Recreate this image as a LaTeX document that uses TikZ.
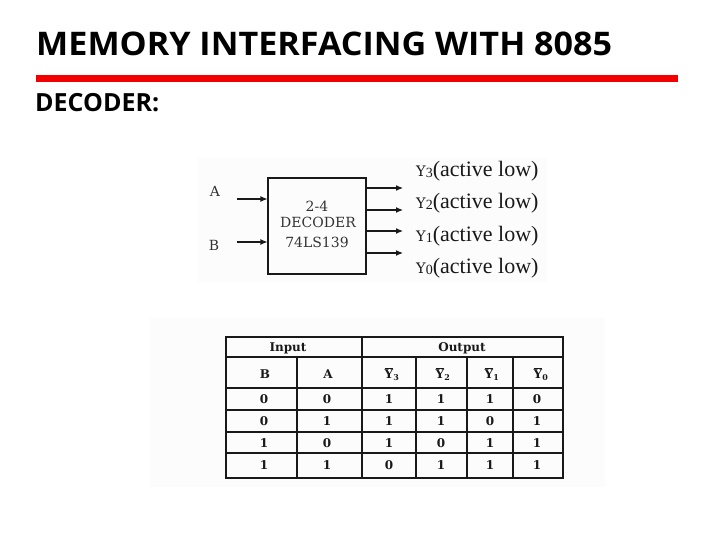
\documentclass[tikz,border=0pt]{standalone}
\usepackage{fontspec}
\setmainfont{Liberation Serif}
\newfontfamily\slidefont{Open Sans}
\newfontfamily\chipfont{DejaVu Serif}
\usetikzlibrary{arrows.meta}
\tikzset{
  panel/.style={fill=black!1,draw=none},
  pin/.style={-{Latex[length=7pt,width=6pt]},line width=1.1pt,black!90},
  chip/.style={font=\chipfont\fontsize{14}{14}\selectfont,text=black!80,inner sep=0pt},
  pinlabel/.style={font=\fontsize{22}{22}\selectfont,text=black!90,anchor=base west,inner sep=0pt},
  cell/.style={font=\chipfont\bfseries\fontsize{12}{12}\selectfont,text=black!90,inner sep=0pt},
  grid/.style={line width=1.4pt,black!90}
}
\newcommand{\outhead}[1]{$\overline{\mbox{\bfseries Y}}_{\mbox{\bfseries\fontsize{8}{8}\selectfont #1}}$}
\begin{document}
\begin{tikzpicture}[x=1pt,y=-1pt,>=latex]
   \useasboundingbox (0,0) rectangle (720,540);
   %heading
   \node[anchor=base west,inner sep=0pt,xscale=1.05,font=\slidefont\bfseries\fontsize{32.5}{32.5}\selectfont] (title) at (36,56) {MEMORY INTERFACING WITH 8085};
   \fill[red!95!black] (36,75) rectangle (678,82);
   \node[anchor=base west,inner sep=0pt,font=\slidefont\bfseries\fontsize{25}{25}\selectfont] (sub) at (35,112) {DECODER:};
   %panels
   \fill[panel] (198,158) rectangle (547,282);
   \fill[panel] (150,318) rectangle (605,487);
   %decoder
   \node[draw=black!90,line width=1.1pt,minimum width=98pt,minimum height=96pt,inner sep=0pt] (dec) at (317,226) {};
   \node[chip] (two) at (317,206) {2-4};
   \node[chip] (name) at (318,222) {DECODER};
   \node[chip] (part) at (317,242) {74LS139};
   %inputs
   \node[chip] (inA) at (215,191) {A};
   \node[chip] (inB) at (214,245) {B};
   \coordinate (a0) at (237,199);
   \coordinate (b0) at (237,242);
   \draw[pin] (a0) -- (a0 -| dec.west);
   \draw[pin] (b0) -- (b0 -| dec.west);
   %outputs
   \foreach \n/\py/\ly in {3/188/177,2/210/209,1/231/241,0/253/273}{
     \coordinate (out\n) at (403,\py);
     \draw[pin] (out\n -| dec.east) -- (out\n);
     \node[pinlabel] (lab\n) at (416,\ly) {{\fontsize{14.5}{14.5}\selectfont\chipfont Y}{\fontsize{14}{14}\selectfont\raisebox{-1pt}{\n}}(active low)};
   }
   %table
   \draw[grid] (226,337) rectangle (563,478);
   \draw[grid] (226,357) -- (563,357);
   \foreach \py in {388,410,432,453}{
     \draw[grid] (226,\py) -- (563,\py);
   }
   \draw[grid] (362,337) -- (362,478);
   \foreach \px in {297,416,467,513}{
     \draw[grid] (\px,357) -- (\px,478);
   }
   %table heads
   \node[cell] (input) at (288,348) {Input};
   \node[cell] (output) at (462,348) {Output};
   \node[cell] (hB) at (265,374) {B};
   \node[cell] (hA) at (328,374) {A};
   \node[cell] (hY3) at (392,374) {\outhead{3}};
   \node[cell] (hY2) at (443,374) {\outhead{2}};
   \node[cell] (hY1) at (492,374) {\outhead{1}};
   \node[cell] (hY0) at (541,374) {\outhead{0}};
   %table rows
   \foreach \py/\vb/\va/\vc/\vd/\ve/\vf in {399/0/0/1/1/1/0,421/0/1/1/1/0/1,443/1/0/1/0/1/1,465/1/1/0/1/1/1}{
     \node[cell] at (264,\py) {\vb};
     \node[cell] at (327,\py) {\va};
     \node[cell] at (389,\py) {\vc};
     \node[cell] at (441,\py) {\vd};
     \node[cell] at (490,\py) {\ve};
     \node[cell] at (537,\py) {\vf};
   }
\end{tikzpicture}
\end{document}
